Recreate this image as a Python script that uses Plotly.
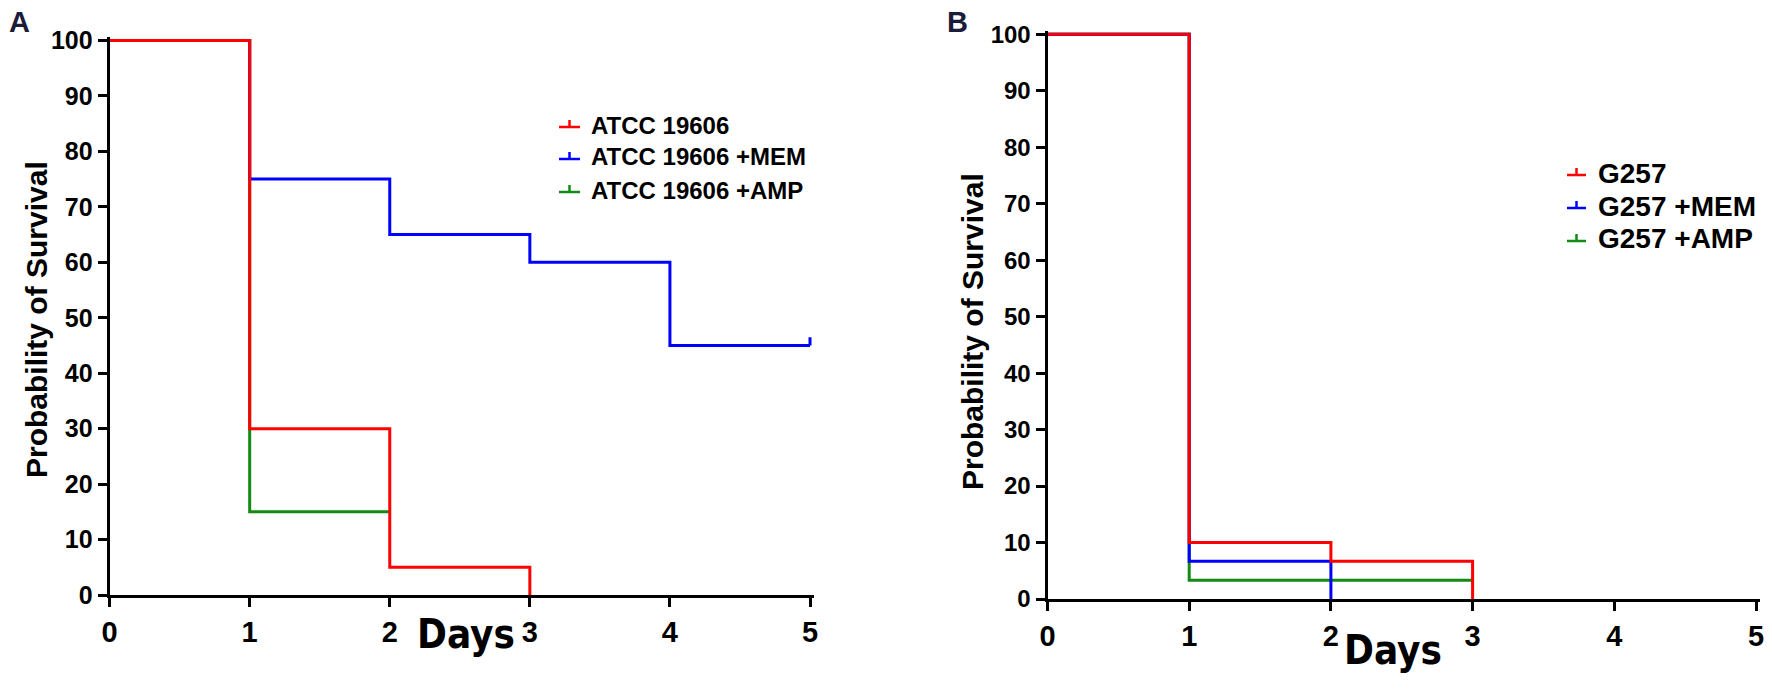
import plotly.graph_objects as go

# ---------------- data ----------------
DAYS_TICKS = [0, 1, 2, 3, 4, 5]
SURV_TICKS = [0, 10, 20, 30, 40, 50, 60, 70, 80, 90, 100]

A_NAMES = ["ATCC 19606", "ATCC 19606 +MEM", "ATCC 19606 +AMP"]
A_RED_X = [0, 1, 2, 3]
A_RED_Y = [100, 30, 5, 0]
A_MEM_X = [0, 1, 2, 3, 4, 5]
A_MEM_Y = [100, 75, 65, 60, 45, 45]
A_AMP_X = [0, 1, 2]
A_AMP_Y = [100, 15, 15]
A_MEM_CENSOR_X = [5]
A_MEM_CENSOR_Y = [45]

B_NAMES = ["G257", "G257 +MEM", "G257 +AMP"]
B_RED_X = [0, 1, 2, 3]
B_RED_Y = [100, 10, 6.67, 0]
B_MEM_X = [0, 1, 2]
B_MEM_Y = [100, 6.67, 0]
B_AMP_X = [0, 1, 3]
B_AMP_Y = [100, 3.33, 3.33]

# ---------------- style ----------------
W, H = 1772, 691
RED, BLUE, GREEN = "#ff0000", "#0000ff", "#138a13"
COLORS = [RED, BLUE, GREEN]
BOLD = "Liberation Sans, Arial, sans-serif"
COND = "DejaVu Sans Condensed, Liberation Sans, sans-serif"
LW = 3
CENSOR_H = 1.5  # censor tick height in y units

def px(x):
    return x / W

def py(y):
    return 1 - y / H

fig = go.Figure()

def add_series(xs, ys, color, xa, ya):
    fig.add_trace(go.Scatter(x=xs, y=ys, mode="lines", line=dict(color=color, width=LW, shape="hv"),
                             xaxis=xa, yaxis=ya, showlegend=False, hoverinfo="skip"))

# panel A (draw green, blue, red)
add_series(A_AMP_X, A_AMP_Y, GREEN, "x", "y")
add_series(A_MEM_X, A_MEM_Y, BLUE, "x", "y")
for cx, cy in zip(A_MEM_CENSOR_X, A_MEM_CENSOR_Y):
    add_series([cx, cx], [cy, cy + CENSOR_H], BLUE, "x", "y")
add_series(A_RED_X, A_RED_Y, RED, "x", "y")

# panel B
add_series(B_AMP_X, B_AMP_Y, GREEN, "x2", "y2")
add_series(B_MEM_X, B_MEM_Y, BLUE, "x2", "y2")
add_series(B_RED_X, B_RED_Y, RED, "x2", "y2")

axis_common = dict(showgrid=False, zeroline=False, showline=True, linewidth=3, linecolor="black",
                   ticks="outside", ticklen=9, tickwidth=3, tickcolor="black", automargin=False)

XR = [0, 5.03]
YR = [0, 100.6]
XTICKFONT = dict(family=BOLD, size=29, color="black", weight="bold")

fig.update_layout(
    template="none",
    width=W, height=H, margin=dict(l=0, r=0, t=0, b=0, autoexpand=False),
    paper_bgcolor="white", plot_bgcolor="white", showlegend=False,
    xaxis=dict(domain=[px(109.6), px(109.6 + 140.08 * XR[1])], range=XR, tickvals=DAYS_TICKS,
               tickfont=XTICKFONT, anchor="y", **axis_common),
    yaxis=dict(domain=[py(595), py(595 - 5.545 * YR[1])], range=YR, tickvals=SURV_TICKS,
               tickfont=dict(family=BOLD, size=25, color="black", weight="bold"), anchor="x", **axis_common),
    xaxis2=dict(domain=[px(1047.5), px(1047.5 + 141.7 * XR[1])], range=XR, tickvals=DAYS_TICKS,
                tickfont=XTICKFONT, anchor="y2", **axis_common),
    yaxis2=dict(domain=[py(599), py(599 - 5.647 * YR[1])], range=YR, tickvals=SURV_TICKS,
                tickfont=dict(family=BOLD, size=24, color="black", weight="bold"), anchor="x2", **axis_common),
)

ann = []
# axis titles
ann.append(dict(text="Days", x=px(466), y=py(634), xref="paper", yref="paper", showarrow=False,
                font=dict(family=COND, size=40, color="black", weight="bold"), xanchor="center", yanchor="middle"))
ann.append(dict(text="Days", x=px(1393), y=py(650), xref="paper", yref="paper", showarrow=False,
                font=dict(family=COND, size=40, color="black", weight="bold"), xanchor="center", yanchor="middle"))
ann.append(dict(text="Probability of Survival", x=px(36), y=py(320), xref="paper", yref="paper", showarrow=False,
                textangle=-90, font=dict(family=BOLD, size=30, color="black", weight="bold"),
                xanchor="center", yanchor="middle"))
ann.append(dict(text="Probability of Survival", x=px(972), y=py(332), xref="paper", yref="paper", showarrow=False,
                textangle=-90, font=dict(family=BOLD, size=30, color="black", weight="bold"),
                xanchor="center", yanchor="middle"))
# panel letters
ann.append(dict(text="A", x=px(19), y=py(22), xref="paper", yref="paper", showarrow=False,
                font=dict(family=BOLD, size=29, color="#1b1b3a", weight="bold"), xanchor="center", yanchor="middle"))
ann.append(dict(text="B", x=px(957), y=py(22), xref="paper", yref="paper", showarrow=False,
                font=dict(family=BOLD, size=29, color="#1b1b3a", weight="bold"), xanchor="center", yanchor="middle"))

shapes = []

def legend(names, rows, sx0, sx1, tx, fsize, tick_h):
    for name, color, ry in zip(names, COLORS, rows):
        ann.append(dict(text=name, x=px(tx), y=py(ry), xref="paper", yref="paper", showarrow=False,
                        font=dict(family=BOLD, size=fsize, color="black", weight="bold"),
                        xanchor="left", yanchor="middle"))
        shapes.append(dict(type="line", xref="paper", yref="paper", x0=px(sx0), x1=px(sx1),
                           y0=py(ry + 2), y1=py(ry + 2), line=dict(color=color, width=2.5)))
        cx = (sx0 + sx1) / 2
        shapes.append(dict(type="line", xref="paper", yref="paper", x0=px(cx), x1=px(cx),
                           y0=py(ry + 2), y1=py(ry + 2 - tick_h), line=dict(color=color, width=2.5)))

legend(A_NAMES, [125, 157, 190], 559, 580, 589, 24, 7)
legend(B_NAMES, [173, 206, 239], 1567, 1586, 1596, 28, 7)

fig.update_layout(annotations=ann, shapes=shapes)
fig.write_html("out.html", config={"displayModeBar": False},
               post_script="document.body.style.margin='0';document.body.style.overflow='hidden';")
